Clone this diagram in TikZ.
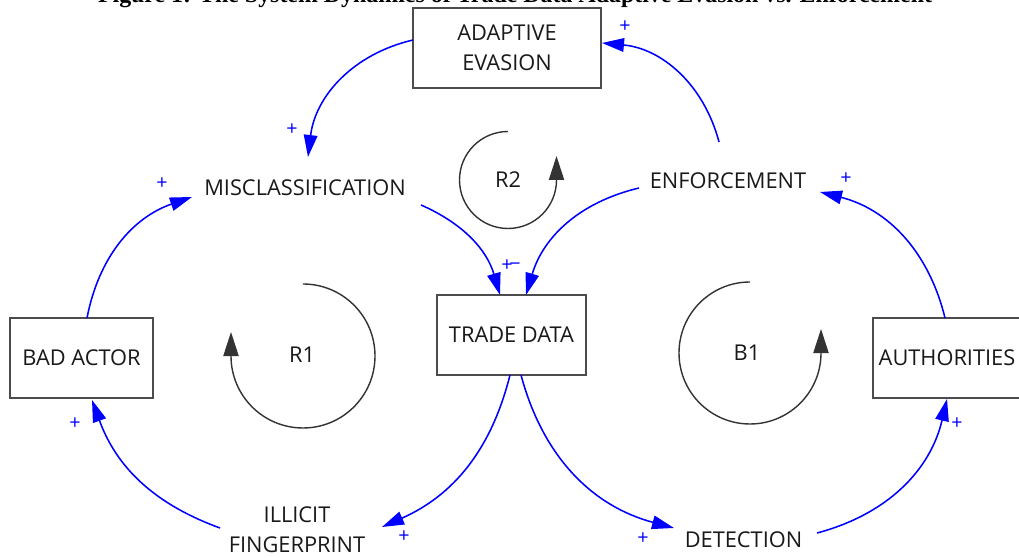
\documentclass[tikz,border=0pt]{standalone}
\usepackage{fontspec}
\setmainfont{Open Sans}
\newfontfamily\titlefont{Liberation Serif}
\usetikzlibrary{calc,arrows.meta}

\begin{document}
\begin{tikzpicture}[x=0.025cm,y=0.025cm,
    box/.style={draw=black!70,line width=1pt,inner sep=0pt,align=center,
        text=black!90,font=\fontsize{15.5}{21.3}\selectfont},
    txt/.style={inner sep=0pt,align=center,text=black!90,font=\fontsize{15.5}{21.3}\selectfont},
    link/.style={blue,line width=1.1pt,-{Triangle[length=5.5mm,width=3.4mm]}},
    loopar/.style={black!80,line width=1pt,-{Triangle[length=6mm,width=3.8mm]}},
    sign/.style={text=blue,inner sep=0pt,font=\fontsize{14}{14}\selectfont}]
    \useasboundingbox (0,0) rectangle (1019,558);

    % Title (cut by the top edge)
    \node[anchor=base,font=\titlefont\bfseries\fontsize{17}{17}\selectfont] (title) at (515,555)
        {Figure 1: The System Dynamics of Trade Data Adaptive Evasion vs. Enforcement};

    % Stocks
    \node[box,minimum width=4.7cm,minimum height=2cm] (adapt) at (507,510) {ADAPTIVE\\EVASION};
    \node[box,minimum width=3.725cm,minimum height=2cm] (trade) at (511.5,223) {TRADE DATA};
    \node[box,minimum width=3.575cm,minimum height=2cm] (bad) at (81.5,200) {BAD ACTOR};
    \node[box,minimum width=3.7cm,minimum height=2cm] (auth) at (947,200) {AUTHORITIES};

    % Variables
    \node[txt] (misc) at (305,370) {MISCLASSIFICATION};
    \node[txt] (enf) at (728,377) {ENFORCEMENT};
    \node[txt] (illicit) at (297,28) {ILLICIT\\FINGERPRINT};
    \node[txt] (detect) at (743.5,18) {DETECTION};

    % Loop labels
    \node[txt] (r2) at (508,378) {R2};
    \node[txt] (r1) at (302,203) {R1};
    \node[txt] (b1) at (747,205) {B1};

    % Loop arrows
    \draw[loopar] ($(r2)+(0,48.5)$) arc[start angle=90,end angle=360,radius=48.5] -- ++(0,24);
    \draw[loopar] ($(r1)+(1,71)$) arc[start angle=90,end angle=-180,radius=72] -- ++(0,24);
    \draw[loopar] ($(b1)+(3,71)$) arc[start angle=90,end angle=360,radius=71] -- ++(0,24);

    % Links
    \draw[link] ($(adapt)+(-94,8)$) to[bend right=35] ($(misc)+(3,31)$);
    \draw[link] ($(enf)+(-9,39)$) to[bend right=35] ($(adapt)+(95,5)$);
    \draw[link] ($(bad)+(5.5,40)$) to[bend left=30] ($(misc)+(-113,-9)$);
    \draw[link] ($(misc)+(116,-17)$) to[bend left=25] ($(trade)+(-11.5,40)$);
    \draw[link] ($(enf)+(-89,-7)$) to[bend right=30] ($(trade)+(14.5,40)$);
    \draw[link] ($(trade)+(-1.5,-40)$) to[bend left=26] ($(illicit)+(85,3)$);
    \draw[link] ($(illicit)+(-77,2)$) to[bend left=25] ($(bad)+(10.5,-42)$);
    \draw[link] ($(trade)+(9.5,-40)$) to[bend right=30] ($(detect)+(-69.5,12)$);
    \draw[link] ($(detect)+(73.5,7)$) to[bend right=31] ($(auth)+(0,-41)$);
    \draw[link] ($(auth)+(-2,40)$) to[bend right=31] ($(enf)+(92,-11)$);

    % Polarities
    \node[sign] (s1) at (292,428) {+};
    \node[sign] (s2) at (625,531) {+};
    \node[sign] (s3) at (162,374) {+};
    \node[sign] (s4) at (507,292) {+};
    \node[sign] (s5) at (515,291) {−};
    \node[sign] (s6) at (404,21) {+};
    \node[sign] (s7) at (75,134) {+};
    \node[sign] (s8) at (643,19) {+};
    \node[sign] (s9) at (957,134) {+};
    \node[sign] (s10) at (846,379) {+};
\end{tikzpicture}
\end{document}
